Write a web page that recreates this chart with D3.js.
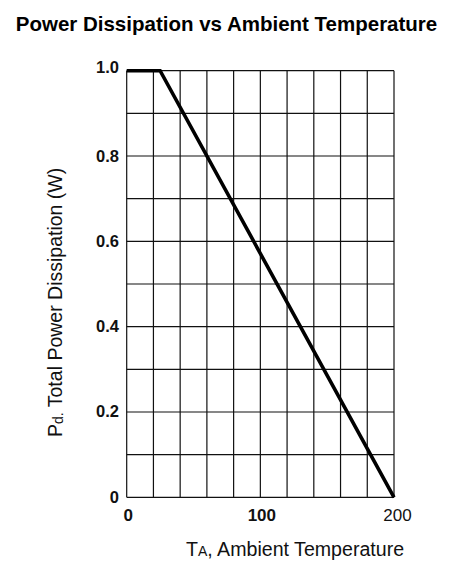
<!DOCTYPE html>
<html>
<head>
<meta charset="utf-8">
<script src="https://cdn.jsdelivr.net/npm/d3@7"></script>
<style>
  html, body { margin: 0; padding: 0; background: #fff; }
  svg { display: block; font-family: "Liberation Sans", Arial, sans-serif; }
</style>
</head>
<body>
<div id="chart"></div>
<script>
// data
const temps = [0, 25, 200];
const power = [1.0, 1.0, 0];

const xGrid = [0, 20, 40, 60, 80, 100, 120, 140, 160, 180, 200];
const yGrid = [0, 0.1, 0.2, 0.3, 0.4, 0.5, 0.6, 0.7, 0.8, 0.9, 1.0];
const xTickValues = [0, 100, 200];
const xTickLabels = ["0", "100", "200"];
const yTickValues = [0, 0.2, 0.4, 0.6, 0.8, 1.0];
const yTickLabels = ["0", "0.2", "0.4", "0.6", "0.8", "1.0"];

const width = 462, height = 572;
const margin = { top: 70.7, right: 68, bottom: 74.7, left: 126.7 };

const svg = d3.select("#chart").append("svg")
    .attr("width", width)
    .attr("height", height);

const x = d3.scaleLinear().domain([0, 200]).range([margin.left, width - margin.right]);
const y = d3.scaleLinear().domain([0, 1]).range([height - margin.bottom, margin.top]);

// title
svg.append("text")
    .attr("x", 226.5)
    .attr("y", 31)
    .attr("text-anchor", "middle")
    .attr("font-size", 20.5)
    .attr("font-weight", "bold")
    .attr("fill", "#000")
    .text("Power Dissipation vs Ambient Temperature");

// grid
const grid = svg.append("g").attr("stroke", "#111").attr("stroke-width", 1.2);

grid.selectAll("line.v")
    .data(xGrid)
    .join("line")
    .attr("class", "v")
    .attr("x1", d => x(d)).attr("x2", d => x(d))
    .attr("y1", y(0)).attr("y2", y(1));

grid.selectAll("line.h")
    .data(yGrid)
    .join("line")
    .attr("class", "h")
    .attr("x1", x(0)).attr("x2", x(200))
    .attr("y1", d => y(d)).attr("y2", d => y(d));

// derating curve
const line = d3.line()
    .x(d => x(d[0]))
    .y(d => y(d[1]));

svg.append("path")
    .datum(temps.map((t, i) => [t, power[i]]))
    .attr("d", line)
    .attr("fill", "none")
    .attr("stroke", "#000")
    .attr("stroke-width", 3.6)
    .attr("stroke-linejoin", "miter");

// y tick labels
svg.append("g")
    .selectAll("text")
    .data(yTickValues)
    .join("text")
    .attr("x", 119)
    .attr("y", d => y(d) + 5.5 - (d === 1 ? 3 : 0))
    .attr("text-anchor", "end")
    .attr("font-size", 16.5)
    .attr("font-weight", "bold")
    .attr("fill", "#111")
    .text((d, i) => yTickLabels[i]);

// x tick labels
svg.append("g")
    .selectAll("text")
    .data(xTickValues)
    .join("text")
    .attr("x", d => x(d) + (d === 200 ? 3.5 : 1.5))
    .attr("y", 521)
    .attr("text-anchor", "middle")
    .attr("font-size", 17)
    .attr("font-weight", d => d === 200 ? "normal" : "bold")
    .attr("fill", "#111")
    .text((d, i) => xTickLabels[i]);

// x axis title
const xt = svg.append("text")
    .attr("x", 186)
    .attr("y", 556)
    .attr("font-size", 19.6)
    .attr("fill", "#111");
xt.append("tspan").text("T");
xt.append("tspan").attr("font-size", 14).text("A");
xt.append("tspan").text(", Ambient Temperature");

// y axis title
const yt = svg.append("text")
    .attr("transform", "translate(62,437) rotate(-90)")
    .attr("font-size", 19.5)
    .attr("fill", "#111");
yt.append("tspan").text("P");
yt.append("tspan").attr("font-size", 14).attr("dy", 1).text("d.");
yt.append("tspan").attr("dy", -1).text(" Total Power Dissipation (W)");
</script>
</body>
</html>
